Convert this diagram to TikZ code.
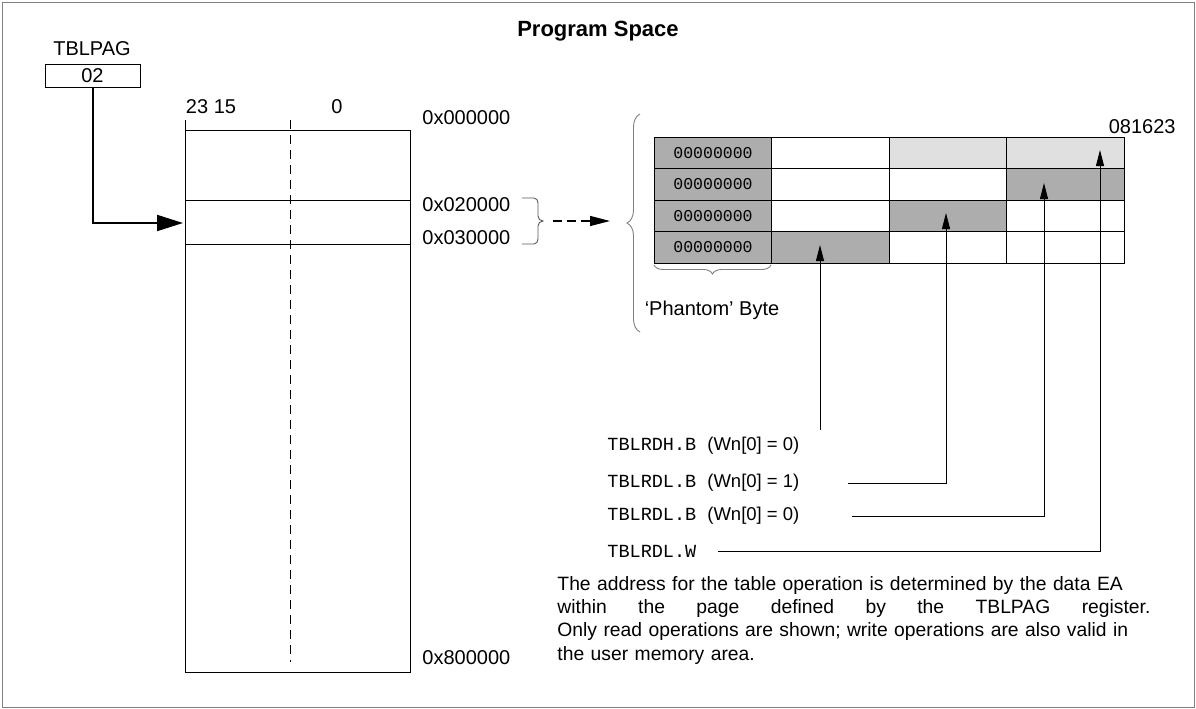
\documentclass[tikz,border=0pt]{standalone}
\usepackage{fontspec}
\setmainfont{Liberation Sans}
\setmonofont{Liberation Mono}
\usetikzlibrary{arrows.meta,decorations.pathreplacing}
\definecolor{dk}{gray}{0.68}
\definecolor{lt}{gray}{0.88}
\begin{document}
\begin{tikzpicture}[x=1pt,y=-1pt,line width=0.9pt,
  txt/.style={inner sep=0pt,font=\fontsize{20}{24}\selectfont},
  mono/.style={inner sep=0pt,font=\fontsize{18.5}{22}\selectfont\ttfamily},
  big/.style={-{Triangle[length=26pt,width=16pt]}},
  tip/.style={-{Triangle[length=16pt,width=8pt]}}]
\useasboundingbox (0,0) rectangle (1196,709);
\draw[gray] (2,2) rectangle (1194,707);
\node[txt,font=\fontsize{22}{26}\selectfont\bfseries] (title) at (598,31) {Program Space};
% TBLPAG
\node[txt] (tp) at (92,49) {TBLPAG};
\node[draw,minimum width=95pt,minimum height=23pt,inner sep=0pt,font=\fontsize{20}{24}\selectfont] (reg) at (92.5,75.5) {02};
\coordinate (ent) at (183,223);
\draw[big,line width=2pt] (93,87) |- (ent);
% memory column
\node[draw,minimum width=225pt,minimum height=542pt,inner sep=0pt,anchor=north west] (mem) at (185,130) {};
\draw (185,120) -- (185,130);
\draw (185,200) -- (410,200);
\draw (185,244) -- (410,244);
\draw[dash pattern=on 9pt off 6pt] (290,120) -- (290,662);
\node[txt] (b23) at (211,107) {23 15};
\node[txt] (b0) at (337,107) {0};
\node[txt,anchor=west] (a0) at (422,118) {0x000000};
\node[txt,anchor=west] (a2) at (422,205) {0x020000};
\node[txt,anchor=west] (a3) at (422,238) {0x030000};
\node[txt,anchor=west] (a8) at (422,658) {0x800000};
% small bracket
\draw[gray!70!black] (522,198) -- (534,198) to[out=0,in=90] (538,203) -- (538,216) to[out=-90,in=180] (543,221) to[out=180,in=90] (538,226) -- (538,239) to[out=-90,in=0] (534,244) -- (522,244);
\coordinate (bs) at (553,221);
\coordinate (be) at (610,221);
\draw[dash pattern=on 9pt off 5pt,line width=1.3pt,-{Triangle[length=20pt,width=10pt]}] (bs) -- (be);
% big brace
\draw[gray,decorate,decoration={brace,amplitude=13pt}] (640,332) -- (640,114);
% table
\foreach \r/\c/\col in {0/0/dk,1/0/dk,2/0/dk,3/0/dk,0/2/lt,0/3/lt,1/3/dk,2/2/dk,3/1/dk}{
  \fill[\col] (654+117.5*\c,137+31.5*\r) rectangle ++(117.5,31.5);}
\draw (654,137) rectangle (1124,263);
\foreach \y in {168.5,200,231.5} \draw (654,\y) -- (1124,\y);
\foreach \x in {771.5,889,1006.5} \draw (\x,137) -- (\x,263);
\foreach \r in {0,1,2,3}
  \node[mono,font=\fontsize{16.5}{19}\selectfont\ttfamily] (z\r) at (713,153+31.5*\r) {00000000};
\node[txt,anchor=east] (bits) at (1176,127) {081623};
\draw[gray,decorate,decoration={brace,amplitude=9pt,mirror}] (654,265) -- (771,265);
\node[txt] (ph) at (712,310) {`Phantom' Byte};
% operations
\node[mono,anchor=west] (o1) at (607,446) {TBLRDH.B \textrm{(Wn[0] = 0)}};
\node[mono,anchor=west] (o2) at (607,483) {TBLRDL.B \textrm{(Wn[0] = 1)}};
\node[mono,anchor=west] (o3) at (607,516) {TBLRDL.B \textrm{(Wn[0] = 0)}};
\node[mono,anchor=west] (o4) at (607,551) {TBLRDL.W};
\coordinate (t1) at (820,245);
\coordinate (t2) at (946,213);
\coordinate (t3) at (1044,183);
\coordinate (t4) at (1100,150);
\draw[tip] (820,430) -- (t1);
\draw[tip] (848,483) -| (t2);
\draw[tip] (852,516) -| (t3);
\draw[tip] (718,551) -| (t4);
\node[txt,anchor=north west,text width=593pt,align=left,font=\fontsize{19.3}{23.2}\selectfont] (para) at (557,576)
{The address for the table operation is determined by the data EA\\
within\hfill the\hfill page\hfill defined\hfill by\hfill the\hfill TBLPAG\hfill register.\\
Only read operations are shown; write operations are also valid in\\
the user memory area.};
\end{tikzpicture}
\end{document}
